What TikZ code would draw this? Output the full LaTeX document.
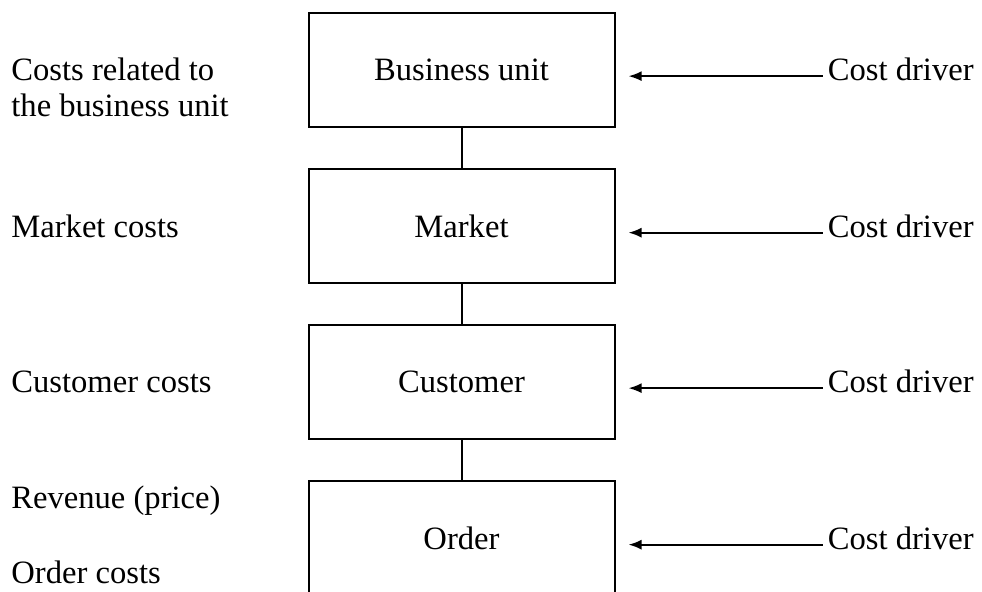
\documentclass[tikz,border=0pt]{standalone}
\usepackage{fontspec}
\setmainfont{Liberation Serif}
\usetikzlibrary{arrows.meta,positioning}

\begin{document}
\begin{tikzpicture}[font=\fontsize{16.3}{18}\selectfont, >={Latex[length=6.5pt,width=5pt]},
    node distance=20pt,
    unitbox/.style={draw, line width=1pt, minimum width=153pt, minimum height=57pt},
    costtext/.style={inner sep=0pt, align=left, anchor=base west},
    driver/.style={inner sep=0pt}]
  \useasboundingbox (0,0) rectangle (491pt,-295.5pt);
  \coordinate (lft) at (5.5pt,0);

  \node[unitbox] (bu) at (230.75pt,-35pt) {Business unit};
  \node[unitbox] (mk) [below=of bu] {Market};
  \node[unitbox] (cu) [below=of mk] {Customer};
  \node[unitbox] (od) [below=of cu] {Order};

  \node[costtext] (c1) at ([yshift=-18pt]lft |- bu.base) {Costs related to\\the business unit};
  \node[costtext] (c2) at (lft |- mk.base) {Market costs};
  \node[costtext] (c3) at (lft |- cu.base) {Customer costs};
  \node[costtext] (c4) at ([yshift=-17pt]lft |- od.base) {Revenue (price)\\[19.5pt]Order costs};

  \node[driver] (d1) [base right=106pt of bu] {Cost driver};
  \node[driver] (d2) [base right=106pt of mk] {Cost driver};
  \node[driver] (d3) [base right=106pt of cu] {Cost driver};
  \node[driver] (d4) [base right=106pt of od] {Cost driver};

  \draw[line width=1pt] (bu) -- (mk) (mk) -- (cu) (cu) -- (od);

  \draw[->, line width=1pt] ([shift={(-2.5pt,2.25pt)}]d1.base west) -- ([shift={(6.5pt,2.25pt)}]bu.base east);
  \draw[->, line width=1pt] ([shift={(-2.5pt,2.25pt)}]d2.base west) -- ([shift={(6.5pt,2.25pt)}]mk.base east);
  \draw[->, line width=1pt] ([shift={(-2.5pt,2.25pt)}]d3.base west) -- ([shift={(6.5pt,2.25pt)}]cu.base east);
  \draw[->, line width=1pt] ([shift={(-2.5pt,2.25pt)}]d4.base west) -- ([shift={(6.5pt,2.25pt)}]od.base east);
\end{tikzpicture}
\end{document}
